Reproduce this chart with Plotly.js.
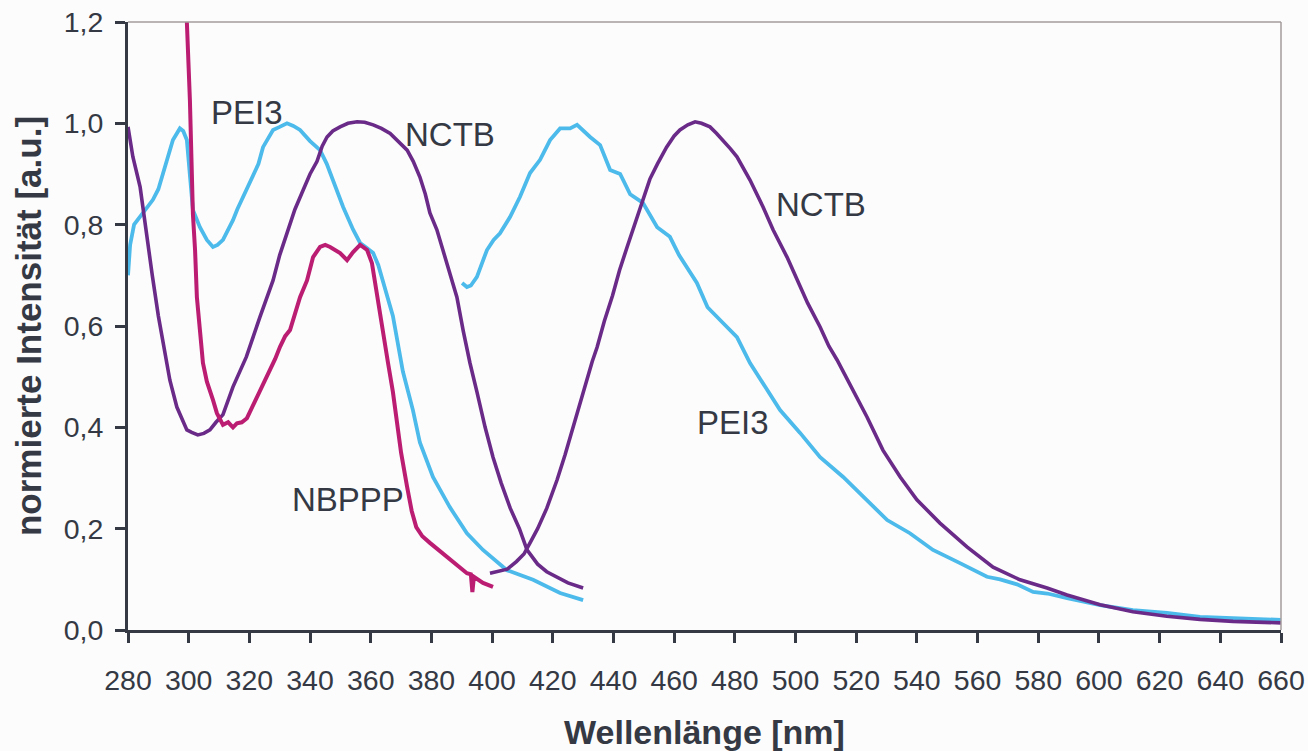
<!DOCTYPE html>
<html>
<head>
<meta charset="utf-8">
<script src="https://cdn.plot.ly/plotly-3.0.1.min.js"></script>
<style>html,body{margin:0;padding:0;background:#fcfcfc;}#chart{width:1308px;height:751px;}</style>
</head>
<body>
<div id="chart"></div>
<script>
// PEI3 absorption
const pei3AbsX = [280,280.7,282,284,286,288.2,290,291.5,293,294.8,297.1,298.2,299.4,301.4,303.7,306,308,309.5,311.3,313,314.6,316,318,321.2,323,324.5,326,327.8,330,332.4,334.5,336.7,340,343.3,345.5,347.6,350.9,354.2,356.5,358.5,360.8,362.5,364,365.7,367.3,370.6,373.9,376.2,380.5,386,391.7,397,404.9,413.5,422.4,430];
const pei3AbsY = [0.70,0.76,0.80,0.815,0.83,0.849,0.87,0.902,0.935,0.967,0.99,0.985,0.967,0.829,0.795,0.77,0.756,0.76,0.77,0.79,0.809,0.83,0.855,0.894,0.92,0.953,0.97,0.987,0.993,1.0,0.995,0.987,0.965,0.947,0.92,0.888,0.835,0.79,0.764,0.755,0.744,0.72,0.69,0.651,0.62,0.51,0.434,0.37,0.302,0.243,0.191,0.158,0.118,0.099,0.073,0.059];
// PEI3 emission
const pei3EmX = [390.1,391.7,393,395,398.3,400.5,402.6,405.9,409.2,412.5,415.8,419.1,422.4,425.7,428,430,432.3,435.6,438.9,442.2,445.5,449.7,454.4,458.6,461.6,467.5,471,476.1,480.7,485,490.6,494.9,501.5,508.1,515.7,523.6,530.2,537.7,545.3,554.2,563.1,567.4,573,578.3,583,589.5,600.4,611.2,622.4,633.3,644.2,660];
const pei3EmY = [0.685,0.677,0.68,0.697,0.75,0.77,0.783,0.815,0.855,0.902,0.928,0.967,0.99,0.99,0.997,0.985,0.973,0.957,0.908,0.900,0.86,0.843,0.795,0.776,0.74,0.685,0.637,0.606,0.578,0.527,0.474,0.434,0.389,0.341,0.302,0.257,0.217,0.191,0.158,0.132,0.105,0.10,0.09,0.075,0.072,0.063,0.049,0.039,0.034,0.026,0.024,0.02];
// NCTB absorption
const nctbAbsX = [280,281.6,284,286,288,290,292,293.8,296.1,299.4,301,303,305,307,309,311.3,314.6,319,323.5,325.8,327.8,330,332.4,335,337.7,340,342.3,344,345.6,347.5,349.9,352.5,355.5,358,360.8,363.5,366.4,369,372,374,376.2,378,379.5,381.8,385,388.4,390.5,392.7,395,397.7,400.3,403,406,409,411.5,415,418,421,425,430];
const nctbAbsY = [0.993,0.934,0.874,0.78,0.70,0.62,0.55,0.493,0.44,0.395,0.39,0.385,0.388,0.395,0.41,0.425,0.48,0.539,0.618,0.657,0.69,0.74,0.785,0.83,0.868,0.9,0.925,0.955,0.973,0.985,0.993,1.0,1.003,1.002,0.997,0.99,0.98,0.965,0.947,0.925,0.894,0.86,0.823,0.79,0.725,0.657,0.59,0.527,0.47,0.40,0.341,0.29,0.24,0.2,0.158,0.13,0.115,0.105,0.093,0.083];
// NCTB emission
const nctbEmX = [399.3,402,405,408,410.5,412.5,415,418,421.4,424,426.7,429,431,433,434.6,437,439.7,442,444.5,447.8,449.7,452,454.5,457.5,460,461.9,464.5,466.9,469,471.8,474,476.1,478.5,480.7,483,485,489.3,492.6,497.2,501.5,504,508.1,511,513.7,519,523.6,528.8,534.5,540,547.6,556.5,565.1,574,582.9,589.5,600.4,611.2,622.4,633.3,644.2,660];
const nctbEmY = [0.112,0.115,0.12,0.135,0.15,0.172,0.2,0.24,0.296,0.345,0.40,0.45,0.493,0.53,0.558,0.61,0.66,0.71,0.756,0.815,0.849,0.89,0.92,0.953,0.975,0.987,0.997,1.003,1.0,0.993,0.98,0.967,0.95,0.934,0.91,0.888,0.835,0.79,0.736,0.677,0.645,0.598,0.56,0.533,0.474,0.42,0.355,0.302,0.257,0.211,0.164,0.124,0.099,0.083,0.069,0.05,0.036,0.027,0.021,0.017,0.014];
// NBPPP
const nbpppX = [298.6,299.4,300.4,301,301.4,302.1,302.7,303.7,304.7,306,307,308,309.3,310.3,311.3,313,314.6,315.9,317.5,319.2,321,323.5,325,326.8,328.5,330.1,331.8,333.4,335,336.7,339,341,343.3,345,346.6,348,349.9,352.2,354.2,356.5,358.8,360.4,362.1,364,365.7,367.3,369,370,372,373.5,375,377,379.5,383,386,389,391.7,393,393.5,394,397,400.3];
const nbpppY = [1.4,1.2,1.046,0.90,0.82,0.75,0.657,0.592,0.527,0.49,0.474,0.454,0.428,0.415,0.405,0.41,0.40,0.408,0.41,0.418,0.44,0.474,0.493,0.513,0.535,0.559,0.58,0.592,0.625,0.657,0.69,0.736,0.756,0.76,0.756,0.75,0.744,0.73,0.746,0.76,0.75,0.724,0.657,0.592,0.527,0.47,0.40,0.35,0.282,0.235,0.203,0.185,0.172,0.155,0.138,0.125,0.112,0.11,0.075,0.105,0.093,0.085];

const xTicks = [280,300,320,340,360,380,400,420,440,460,480,500,520,540,560,580,600,620,640,660];
const yTicks = [0,0.2,0.4,0.6,0.8,1.0,1.2];

const labelTexts = ['PEI3','NCTB','NCTB','PEI3','NBPPP'];
const labelX = [319.2,386.1,508.4,479.4,352.5];
const labelY = [1.022,0.977,0.839,0.410,0.257];

const cyan = '#4cbaea', purple = '#6a2a88', magenta = '#bb1d72', dark = '#343944';

const traces = [
  {x: pei3AbsX, y: pei3AbsY, color: cyan, w: 3.8},
  {x: pei3EmX, y: pei3EmY, color: cyan, w: 3.8},
  {x: nctbAbsX, y: nctbAbsY, color: purple, w: 3.6},
  {x: nctbEmX, y: nctbEmY, color: purple, w: 3.6},
  {x: nbpppX, y: nbpppY, color: magenta, w: 4}
].map(t => ({x: t.x, y: t.y, type: 'scatter', mode: 'lines', line: {color: t.color, width: t.w}, hoverinfo: 'skip', showlegend: false}));

const font = 'Liberation Sans, Arial, sans-serif';

const layout = {
  width: 1308, height: 751,
  margin: {l: 128, r: 27, t: 22, b: 121},
  paper_bgcolor: '#fcfcfc', plot_bgcolor: '#fcfcfc',
  separators: ',.',
  font: {family: font, color: dark, size: 28},
  xaxis: {
    range: [280, 660], tickmode: 'array', tickvals: xTicks, ticktext: xTicks.map(String),
    showline: true, linecolor: dark, linewidth: 3, ticks: 'outside', ticklen: 10, tickwidth: 3, tickcolor: dark,
    showgrid: false, zeroline: false, tickfont: {size: 28.5, family: font, color: dark},
    ticklabelstandoff: 13,
    title: {text: 'Wellenlänge [nm]', font: {size: 34, family: font, color: dark, weight: 'bold'}, standoff: 26}
  },
  yaxis: {
    range: [0, 1.2], tickmode: 'array', tickvals: yTicks, tickformat: '.1f',
    showline: true, linecolor: dark, linewidth: 3, ticks: 'outside', ticklen: 10, tickwidth: 3, tickcolor: dark,
    showgrid: false, zeroline: false, tickfont: {size: 28.5, family: font, color: dark},
    ticklabelstandoff: 6,
    title: {text: 'normierte Intensität [a.u.]', font: {size: 35, family: font, color: dark, weight: 'bold'}, standoff: 12}
  },
  shapes: [
    {type: 'line', xref: 'paper', yref: 'paper', x0: 0, x1: 1, y0: 1, y1: 1, line: {color: '#a59d9d', width: 1.5}},
    {type: 'line', xref: 'paper', yref: 'paper', x0: 1, x1: 1, y0: 0, y1: 1, line: {color: '#a59d9d', width: 1.5}}
  ],
  annotations: labelTexts.map((t, i) => ({
    x: labelX[i], y: labelY[i], xref: 'x', yref: 'y', text: t, showarrow: false,
    xanchor: 'center', yanchor: 'middle', font: {size: 33, family: font, color: dark}
  }))
};

Plotly.newPlot('chart', traces, layout, {displayModeBar: false, staticPlot: true});
</script>
</body>
</html>
